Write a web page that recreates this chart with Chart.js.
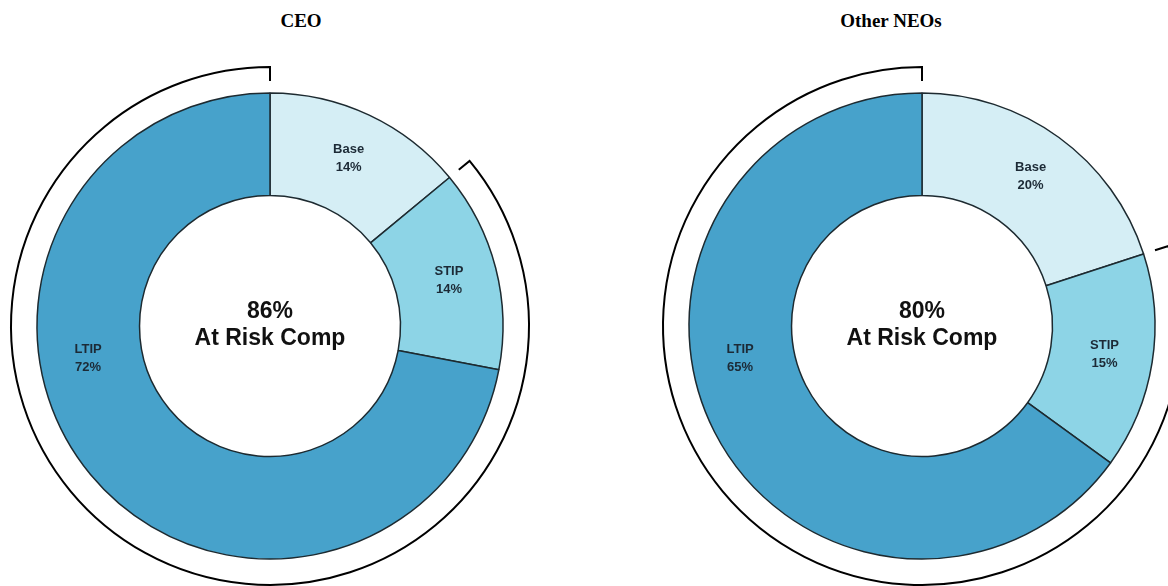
<!DOCTYPE html>
<html>
<head>
<meta charset="utf-8">
<script src="https://cdn.jsdelivr.net/npm/chart.js@4.4.1/dist/chart.umd.min.js"></script>
<style>
  html, body { margin: 0; padding: 0; background: #fff; overflow: hidden; }
  #wrap { position: relative; width: 1168px; height: 586px; overflow: hidden; }
  .title { position: absolute; top: 10px; font: bold 19px "Liberation Serif", "Times New Roman", serif; color: #000; transform: translateX(-50%); white-space: nowrap; }
  canvas { position: absolute; top: 0; }
</style>
</head>
<body>
<div id="wrap">
  <div class="title" id="t1" style="left:301px"></div>
  <div class="title" id="t2" style="left:891px"></div>
  <canvas id="ceoChart" width="540" height="652" style="left:0px;width:540px;height:652px"></canvas>
  <canvas id="neoChart" width="540" height="652" style="left:652px;width:540px;height:652px"></canvas>
</div>
<script>
// data
var chartTitles = ['CEO', 'Other NEOs'];
var segmentLabels = ['Base', 'STIP', 'LTIP'];
var ceoValues = [14, 14, 72];
var neoValues = [20, 15, 65];
var ceoAtRisk = 86;
var neoAtRisk = 80;
var centerCaption = 'At Risk Comp';
// which segments count as "at risk" (bracket drawn round them)
var atRiskSegments = [1, 2];

var segmentColors = ['#d5eef5', '#8dd4e6', '#47a2cb'];

document.getElementById('t1').textContent = chartTitles[0];
document.getElementById('t2').textContent = chartTitles[1];

// writes name + percent inside each slice
var sliceLabels = {
  id: 'sliceLabels',
  afterDatasetsDraw: function(chart, args, opts) {
    var ctx = chart.ctx;
    var meta = chart.getDatasetMeta(0);
    var values = chart.data.datasets[0].data;
    ctx.save();
    ctx.fillStyle = '#1c2a36';
    ctx.font = 'bold 13px "Liberation Sans", Arial, sans-serif';
    ctx.textAlign = 'center';
    ctx.textBaseline = 'middle';
    meta.data.forEach(function(arc, i) {
      var ang = (arc.startAngle + arc.endAngle) / 2;
      if (opts.angleOverride && opts.angleOverride[i] !== undefined) {
        ang = (opts.angleOverride[i] - 90) * Math.PI / 180;
      }
      var r = (arc.innerRadius + arc.outerRadius) / 2 + 3;
      var x = arc.x + r * Math.cos(ang);
      var y = arc.y + r * Math.sin(ang);
      ctx.fillText(chart.data.labels[i], x, y - 9);
      ctx.fillText(values[i] + '%', x, y + 9);
    });
    ctx.restore();
  }
};

// big text in the hole
var centerText = {
  id: 'centerText',
  afterDatasetsDraw: function(chart, args, opts) {
    var ctx = chart.ctx;
    var arc = chart.getDatasetMeta(0).data[0];
    ctx.save();
    ctx.fillStyle = '#111';
    ctx.font = 'bold 23px "Liberation Sans", Arial, sans-serif';
    ctx.textAlign = 'center';
    ctx.textBaseline = 'middle';
    ctx.fillText(opts.value + '%', arc.x, arc.y - 14);
    ctx.fillText(opts.caption, arc.x, arc.y + 13);
    ctx.restore();
  }
};

// outer bracket over the at-risk slices
var bracket = {
  id: 'bracket',
  afterDatasetsDraw: function(chart, args, opts) {
    var ctx = chart.ctx;
    var arcs = chart.getDatasetMeta(0).data;
    var first = arcs[opts.segments[0]];
    var last = arcs[opts.segments[opts.segments.length - 1]];
    var r = first.outerRadius + opts.gap;
    var r2 = r - opts.tick;
    var a0 = first.startAngle, a1 = last.endAngle;
    ctx.save();
    ctx.strokeStyle = '#000';
    ctx.lineWidth = 2;
    ctx.beginPath();
    ctx.moveTo(first.x + r2 * Math.cos(a0), first.y + r2 * Math.sin(a0));
    ctx.lineTo(first.x + r * Math.cos(a0), first.y + r * Math.sin(a0));
    ctx.arc(first.x, first.y, r, a0, a1);
    ctx.lineTo(first.x + r2 * Math.cos(a1), first.y + r2 * Math.sin(a1));
    ctx.stroke();
    ctx.restore();
  }
};

function makeDonut(id, values, atRisk) {
  return new Chart(document.getElementById(id), {
    type: 'doughnut',
    data: {
      labels: segmentLabels,
      datasets: [{
        data: values,
        backgroundColor: segmentColors,
        borderColor: '#1d2a30',
        borderWidth: 1.5
      }]
    },
    options: {
      responsive: false,
      animation: false,
      radius: 233,
      cutout: '56%',
      plugins: {
        legend: { display: false },
        tooltip: { enabled: false },
        sliceLabels: { angleOverride: { 2: 260 } },
        centerText: { value: atRisk, caption: centerCaption },
        bracket: { segments: atRiskSegments, gap: 26, tick: 14 }
      }
    },
    plugins: [sliceLabels, centerText, bracket]
  });
}

makeDonut('ceoChart', ceoValues, ceoAtRisk);
makeDonut('neoChart', neoValues, neoAtRisk);
</script>
</body>
</html>
